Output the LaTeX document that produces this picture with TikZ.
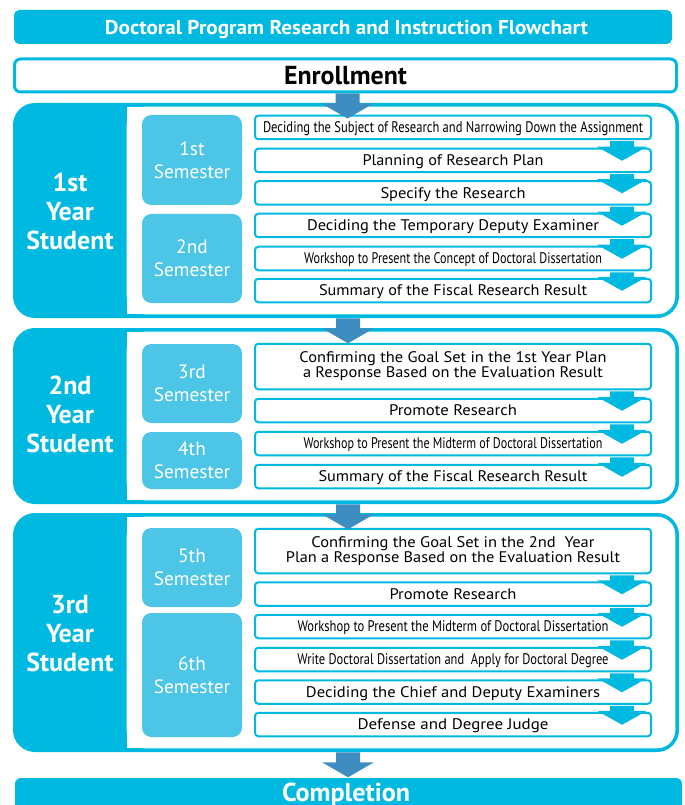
\documentclass[tikz,border=0pt]{standalone}
\usepackage{graphicx}
\usepackage{fontspec}
\setmainfont{PT Sans}
\usetikzlibrary{calc}
\newdimen\pxu \pxu=0.75pt
\definecolor{cy}{RGB}{0,185,224}
\definecolor{semcy}{RGB}{76,197,230}
\definecolor{arrb}{RGB}{62,141,192}
\newcommand\fw[2]{\resizebox{#1\pxu}{\height}{#2}}
\newcommand\sarr[2]{%
  \fill[cy] ($(#1.south east)+(-42,1)$) -- ($(#1.south east)+(-18,1)$)
    -- ($(#2.north east)+(-18,-1)$) -- ($(#2.north east)+(-5,-1)$)
    -- ($(#2.north east)+(-30,13)$) -- ($(#2.north east)+(-55,-1)$)
    -- ($(#2.north east)+(-42,-1)$) -- cycle;}
\newcommand\barr[2]{%
  \fill[arrb] ($(#1.south)+(-10,0)$) -- ($(#1.south)+(14,0)$)
    -- ($(#1.south)+(14,10)$) -- ($(#1.south)+(28,10)$)
    -- ($(#1.south)+(2,25)$) -- ($(#1.south)+(-24,10)$)
    -- ($(#1.south)+(-10,10)$) -- cycle;}
\tikzset{
  stepbox/.style={draw=cy, line width=1.5pt, fill=white, rounded corners=2.5pt,
    minimum width=396\pxu, minimum height=#1\pxu, inner sep=0pt, align=center,
    font=\fontsize{11.5}{11.25}\selectfont, text=black},
  stepbox/.default=23.5,
  oneline/.style={text height=8pt, text depth=0pt},
  sembox/.style={fill=semcy, rounded corners=7pt, minimum width=100\pxu,
    minimum height=#1\pxu, inner sep=0pt, align=center, text=white,
    font=\fontsize{14.5}{17.25}\selectfont},
  yearblock/.style={fill=cy, rounded corners=16.5pt, minimum width=666\pxu,
    minimum height=#1\pxu, inner sep=0pt},
  yearlbl/.style={text=white, align=center, inner sep=0pt,
    font=\bfseries\fontsize{19.5}{21.75}\selectfont},
}
\newcommand\whiteinner[1]{%
  \fill[white, rounded corners=13.5pt] ($(#1.north west)+(114,4)$) rectangle ($(#1.south east)+(-4,-4)$);
  \fill[white] ($(#1.north west)+(114,4)$) rectangle ($(#1.south west)+(150,-4)$);}
\begin{document}
\begin{tikzpicture}[x=0.75pt, y=-0.75pt]
\useasboundingbox (0,0) rectangle (684,805);
\clip (0,0) rectangle (684,805);
% title
\node[fill=cy, rounded corners=4pt, minimum width=658\pxu, minimum height=34\pxu, inner sep=0pt] (title) at (343,27) {};
\node[anchor=base, text=white, font=\bfseries\fontsize{15}{18}\selectfont, inner sep=0pt] (titletext) at (346.5,35) {\fw{483}{Doctoral Program Research and Instruction Flowchart}};
% enrollment
\node[draw=cy, line width=2.25pt, fill=white, rounded corners=4.5pt, minimum width=662\pxu, minimum height=33\pxu, inner sep=0pt,
  font=\bfseries\fontsize{19.5}{22}\selectfont] (enroll) at (345.5,75.5) {\fw{123}{Enrollment}};
% completion
\node[fill=cy, rounded corners=4.5pt, minimum width=667\pxu, minimum height=38\pxu, inner sep=0pt] (complete) at (348.5,797) {};
\node[anchor=base, text=white, inner sep=0pt, font=\bfseries\fontsize{19.5}{22}\selectfont] (completetext) at (346,801) {\fw{128}{Completion}};

% ---------- year 1 ----------
\node[yearblock=215] (y1) at (346,210.5) {};
\whiteinner{y1}
\node[yearlbl] (y1l) at (70,211) {1st\\Year\\Student};
\node[sembox=90] (sem1) at (192,160) {1st\\Semester};
\node[sembox=89] (sem2) at (192,258.5) {2nd\\Semester};
\node[stepbox, oneline] (s1) at (453,127.5) {\fw{380}{Deciding the Subject of Research and Narrowing Down the Assignment}};
\node[stepbox, oneline] (s2) at (453,160.5) {\fw{181}{Planning of Research Plan}};
\node[stepbox, oneline] (s3) at (453,193) {\fw{145}{Specify the Research}};
\node[stepbox, oneline] (s4) at (453,225.5) {\fw{292}{Deciding the Temporary Deputy Examiner}};
\node[stepbox, oneline] (s5) at (453,258.5) {\fw{298}{Workshop to Present the Concept of Doctoral Dissertation}};
\node[stepbox, oneline] (s6) at (453,290.5) {\fw{268}{Summary of the Fiscal Research Result}};
\sarr{s1}{s2}\sarr{s2}{s3}\sarr{s3}{s4}\sarr{s4}{s5}\sarr{s5}{s6}

% ---------- year 2 ----------
\node[yearblock=176] (y2) at (346,416) {};
\whiteinner{y2}
\node[yearlbl] (y2l) at (70,414) {2nd\\Year\\Student};
\node[sembox=79] (sem3) at (192,383.5) {3rd\\Semester};
\node[sembox=57] (sem4) at (192,460.5) {4th\\Semester};
\node[stepbox=45.5] (t1) at (453,366.5) {\fw{307}{Confirming the Goal Set in the 1st Year Plan}\\\fw{300}{a Response Based on the Evaluation Result}};
\node[stepbox, oneline] (t2) at (453,410.5) {\fw{128}{Promote Research}};
\node[stepbox, oneline] (t3) at (453,443.5) {\fw{299}{Workshop to Present the Midterm of Doctoral Dissertation}};
\node[stepbox, oneline] (t4) at (453,476.5) {\fw{269}{Summary of the Fiscal Research Result}};
\sarr{t1}{t2}\sarr{t2}{t3}\sarr{t3}{t4}

% ---------- year 3 ----------
\node[yearblock=239] (y3) at (346,632.5) {};
\whiteinner{y3}
\node[yearlbl] (y3l) at (70,634) {3rd\\Year\\Student};
\node[sembox=79] (sem5) at (192,567.5) {5th\\Semester};
\node[sembox=124] (sem6) at (192,675) {6th\\Semester};
\node[stepbox=44.5] (u1) at (453,551) {\fw{283}{Confirming the Goal Set in the 2nd~ Year}\\\fw{334}{Plan a Response Based on the Evaluation Result}};
\node[stepbox, oneline] (u2) at (453,594) {\fw{127}{Promote Research}};
\node[stepbox, oneline] (u3) at (453,626.5) {\fw{311}{Workshop to Present the Midterm of Doctoral Dissertation}};
\node[stepbox, oneline] (u4) at (453,659.5) {\fw{311}{Write Doctoral Dissertation and~ Apply for Doctoral Degree}};
\node[stepbox, oneline] (u5) at (453,692) {\fw{294}{Deciding the Chief and Deputy Examiners}};
\node[stepbox, oneline] (u6) at (453,724.5) {\fw{191}{Defense and Degree Judge}};
\sarr{u1}{u2}\sarr{u2}{u3}\sarr{u3}{u4}\sarr{u4}{u5}\sarr{u5}{u6}

% ---------- big arrows ----------
\barr{enroll}{y1}
\barr{y1}{y2}
\barr{y2}{y3}
\barr{y3}{complete}
\end{tikzpicture}
\end{document}
